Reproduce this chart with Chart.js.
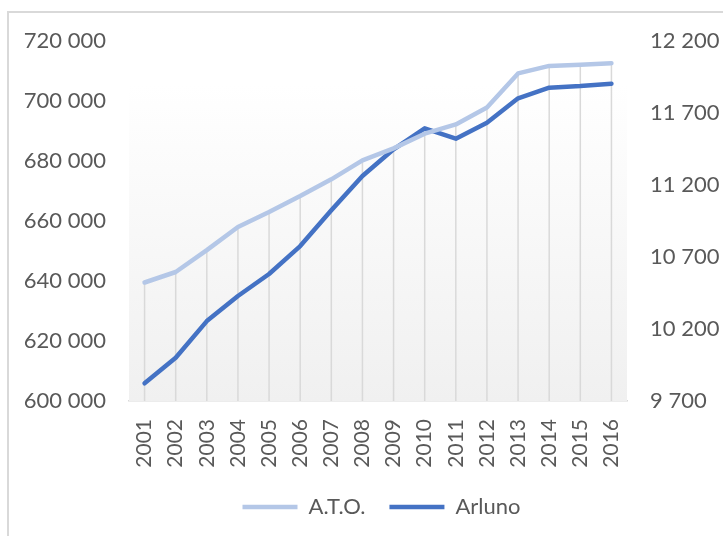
<!DOCTYPE html>
<html>
<head>
<meta charset="utf-8">
<script src="https://cdn.jsdelivr.net/npm/chart.js@4/dist/chart.umd.min.js"></script>
<style>
  html, body { margin: 0; padding: 0; background: #ffffff; overflow: hidden; }
  body { width: 723px; height: 536px; position: relative; }
  #frame { position: absolute; left: 7px; top: 11px; width: 800px; height: 600px;
           border: 2px solid #d9d9d9; box-sizing: border-box; }
  #wrap { position: absolute; left: 0; top: 0; }
</style>
</head>
<body>
<div id="frame"></div>
<div id="wrap"><canvas id="chart" width="763" height="528"></canvas></div>
<script>
// Population by year: A.T.O. (left axis) and Arluno (right axis)
const years = ['2001','2002','2003','2004','2005','2006','2007','2008',
               '2009','2010','2011','2012','2013','2014','2015','2016'];
const atoValues = [639500, 643000, 650300, 658000, 663000, 668300, 673900, 680200,
                   684200, 689100, 692200, 697800, 709200, 711700, 712100, 712600];
const arlunoValues = [9823, 10000, 10255, 10429, 10582, 10776, 11024, 11262,
                      11448, 11594, 11522, 11633, 11802, 11876, 11887, 11903];

// Axis ranges and tick steps
const leftAxis = { min: 600000, max: 720000, step: 20000 };
const rightAxis = { min: 9700, max: 12200, step: 500 };

const seriesNames = ['A.T.O.', 'Arluno'];
const seriesColors = ['#b4c7e7', '#4472c4'];

const textColor = '#595959';
const fontFamily = 'Lato, "Open Sans", "Noto Sans", sans-serif';

function spaced(v) {
  return String(Math.round(v)).replace(/\B(?=(\d{3})+(?!\d))/g, ' ');
}

// Light vertical gradient behind the plot area
const plotBackground = {
  id: 'plotBackground',
  beforeDatasetsDraw(chart) {
    const { ctx, chartArea: a } = chart;
    const g = ctx.createLinearGradient(0, a.top, 0, a.bottom);
    g.addColorStop(0, '#ffffff');
    g.addColorStop(0.12, '#ffffff');
    g.addColorStop(1, '#f0f0f0');
    ctx.save();
    ctx.fillStyle = g;
    ctx.fillRect(a.left, a.top, a.right - a.left, a.bottom - a.top);
    ctx.restore();
  }
};

// Drop lines from the upper point of each year down to the category axis
const dropLines = {
  id: 'dropLines',
  beforeDatasetsDraw(chart) {
    const { ctx, chartArea: a, scales } = chart;
    ctx.save();
    ctx.strokeStyle = '#d9d9d9';
    ctx.lineWidth = 1.5;
    years.forEach((y, i) => {
      const x = scales.x.getPixelForValue(i);
      const top = Math.min(scales.y.getPixelForValue(atoValues[i]),
                           scales.y1.getPixelForValue(arlunoValues[i]));
      ctx.beginPath();
      ctx.moveTo(x, top);
      ctx.lineTo(x, a.bottom);
      ctx.stroke();
    });
    ctx.restore();
  }
};

new Chart(document.getElementById('chart'), {
  type: 'line',
  data: {
    labels: years,
    datasets: [
      {
        label: seriesNames[0],
        data: atoValues,
        yAxisID: 'y',
        borderColor: seriesColors[0],
        backgroundColor: seriesColors[0],
        borderWidth: 4.5,
        pointRadius: 0,
        tension: 0,
        borderCapStyle: 'round',
        borderJoinStyle: 'round'
      },
      {
        label: seriesNames[1],
        data: arlunoValues,
        yAxisID: 'y1',
        borderColor: seriesColors[1],
        backgroundColor: seriesColors[1],
        borderWidth: 4.5,
        pointRadius: 0,
        tension: 0,
        borderCapStyle: 'round',
        borderJoinStyle: 'round'
      }
    ]
  },
  options: {
    responsive: false,
    animation: false,
    devicePixelRatio: 1,
    layout: { padding: { left: 0, right: 0, top: 41, bottom: 0 } },
    plugins: {
      tooltip: { enabled: false },
      legend: {
        position: 'bottom',
        labels: {
          usePointStyle: true,
          pointStyle: 'line',
          pointStyleWidth: 55,
          boxHeight: 22,
          padding: 24,
          color: textColor,
          font: { family: fontFamily, size: 22 }
        }
      }
    },
    scales: {
      x: {
        type: 'category',
        offset: true,
        grid: { display: false, drawTicks: false },
        border: { display: true, color: '#d9d9d9', width: 1.5 },
        ticks: {
          autoSkip: false,
          minRotation: 90,
          maxRotation: 90,
          padding: 18,
          color: textColor,
          font: { family: fontFamily, size: 21 }
        },
        afterFit(scale) { scale.height = 71; }
      },
      y: {
        position: 'left',
        min: leftAxis.min,
        max: leftAxis.max,
        grid: { display: false, drawTicks: false },
        border: { display: false },
        ticks: {
          stepSize: leftAxis.step,
          padding: 23,
          color: textColor,
          font: { family: fontFamily, size: 22 },
          callback: v => spaced(v)
        },
        afterFit(scale) { scale.width = 129; }
      },
      y1: {
        position: 'right',
        min: rightAxis.min,
        max: rightAxis.max,
        grid: { display: false, drawTicks: false },
        border: { display: false },
        ticks: {
          stepSize: rightAxis.step,
          padding: 23,
          color: textColor,
          font: { family: fontFamily, size: 22 },
          callback: v => spaced(v)
        },
        afterFit(scale) { scale.width = 136; }
      }
    }
  },
  plugins: [plotBackground, dropLines]
});
</script>
</body>
</html>
